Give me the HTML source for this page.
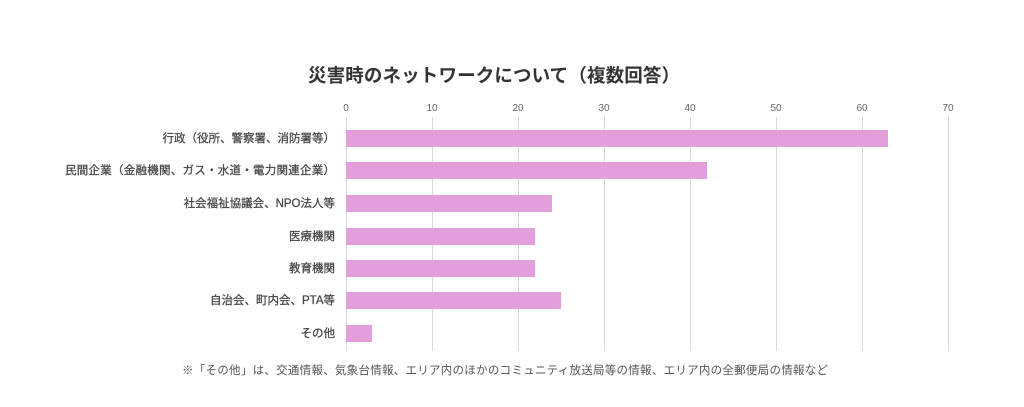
<!DOCTYPE html>
<html><head><meta charset="utf-8"><style>
body{margin:0;background:#fff;}
svg text{font-family:"Liberation Sans","Noto Sans CJK JP",sans-serif;}
</style></head><body>
<svg width="1024" height="402" xmlns="http://www.w3.org/2000/svg">
<rect width="1024" height="402" fill="#fff"/>
<text x="308" y="82" font-size="18.5" font-weight="bold" fill="#333" textLength="372">災害時のネットワークについて（複数回答）</text>
<g stroke="#d9d9d9" stroke-width="1">
<line x1="346.5" y1="117" x2="346.5" y2="351"/>
<line x1="432.5" y1="117" x2="432.5" y2="351"/>
<line x1="518.5" y1="117" x2="518.5" y2="351"/>
<line x1="604.5" y1="117" x2="604.5" y2="351"/>
<line x1="690.5" y1="117" x2="690.5" y2="351"/>
<line x1="776.5" y1="117" x2="776.5" y2="351"/>
<line x1="862.5" y1="117" x2="862.5" y2="351"/>
<line x1="948.5" y1="117" x2="948.5" y2="351"/>
</g>
<g font-size="10" fill="#666" text-anchor="middle">
<text x="346" y="111">0</text><text x="432" y="111">10</text><text x="518" y="111">20</text><text x="604" y="111">30</text><text x="690" y="111">40</text><text x="776" y="111">50</text><text x="862" y="111">60</text><text x="948" y="111">70</text>
</g>
<g fill="#e29fdc">
<rect x="346" y="130" width="542" height="17"/>
<rect x="346" y="162" width="361" height="17"/>
<rect x="346" y="195" width="206" height="17"/>
<rect x="346" y="228" width="189" height="17"/>
<rect x="346" y="260" width="189" height="17"/>
<rect x="346" y="292" width="215" height="17"/>
<rect x="346" y="325" width="26" height="17"/>
</g>
<g font-size="11.5" fill="#444" text-anchor="end" stroke="#444" stroke-width="0.25">
<text x="335" y="142">行政（役所、警察署、消防署等）</text>
<text x="335" y="174" textLength="270">民間企業（金融機関、ガス・水道・電力関連企業）</text>
<text x="335" y="207">社会福祉協議会、NPO法人等</text>
<text x="335" y="240">医療機関</text>
<text x="335" y="272">教育機関</text>
<text x="335" y="304">自治会、町内会、PTA等</text>
<text x="335" y="337">その他</text>
</g>
<text x="182" y="374" font-size="11.5" fill="#555" textLength="646">※「その他」は、交通情報、気象台情報、エリア内のほかのコミュニティ放送局等の情報、エリア内の全郵便局の情報など</text>
</svg>
</body></html>
